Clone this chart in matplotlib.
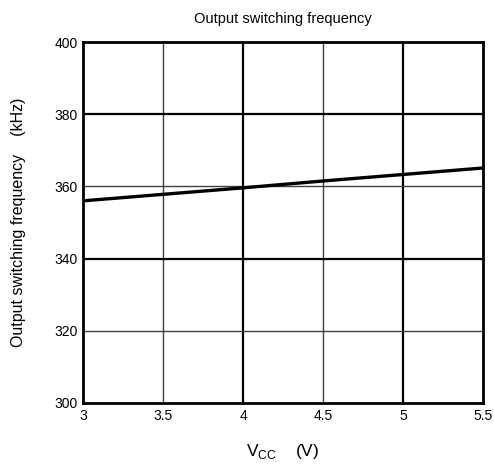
"""Output switching frequency versus supply voltage."""

import matplotlib

matplotlib.use("Agg")
import matplotlib.pyplot as plt

vcc = [3.0, 3.5, 4.0, 4.5, 5.0, 5.5]
freq_khz = [356.0, 357.8, 359.6, 361.5, 363.3, 365.1]

x_major = [4.0, 5.0]
x_minor = [3.5, 4.5]
y_major = [340, 380]
y_minor = [320, 360]
x_ticks = [3, 3.5, 4, 4.5, 5, 5.5]
x_ticklabels = ["3", "3.5", "4", "4.5", "5", "5.5"]
y_ticks = [300, 320, 340, 360, 380, 400]

plt.rcParams["font.family"] = ["Liberation Sans", "DejaVu Sans"]

fig = plt.figure(figsize=(4.94, 4.71), dpi=100)
ax = fig.add_axes([83 / 494, 68 / 471, 400 / 494, 361 / 471])

for v in x_minor:
    ax.axvline(v, color="0.25", lw=1.0, zorder=1)
for v in x_major:
    ax.axvline(v, color="black", lw=1.6, zorder=1)
for v in y_minor:
    ax.axhline(v, color="0.25", lw=1.0, zorder=1)
for v in y_major:
    ax.axhline(v, color="black", lw=1.6, zorder=1)

ax.plot(vcc, freq_khz, color="black", lw=2.4, zorder=3)

ax.set_xlim(3, 5.5)
ax.set_ylim(300, 400)
ax.set_xticks(x_ticks)
ax.set_xticklabels(x_ticklabels)
ax.set_yticks(y_ticks)
ax.tick_params(length=0, labelsize=10, pad=4)
for s in ax.spines.values():
    s.set_linewidth(2.0)

ax.set_title("Output switching frequency", fontsize=10.5, pad=14)
ax.set_ylabel("Output switching frequency    (kHz)", fontsize=11.5, labelpad=20)
ax.set_xlabel(r"V$_{\mathregular{CC}}$    (V)", fontsize=12.5, labelpad=14)

fig.savefig("out.png", dpi=100)
